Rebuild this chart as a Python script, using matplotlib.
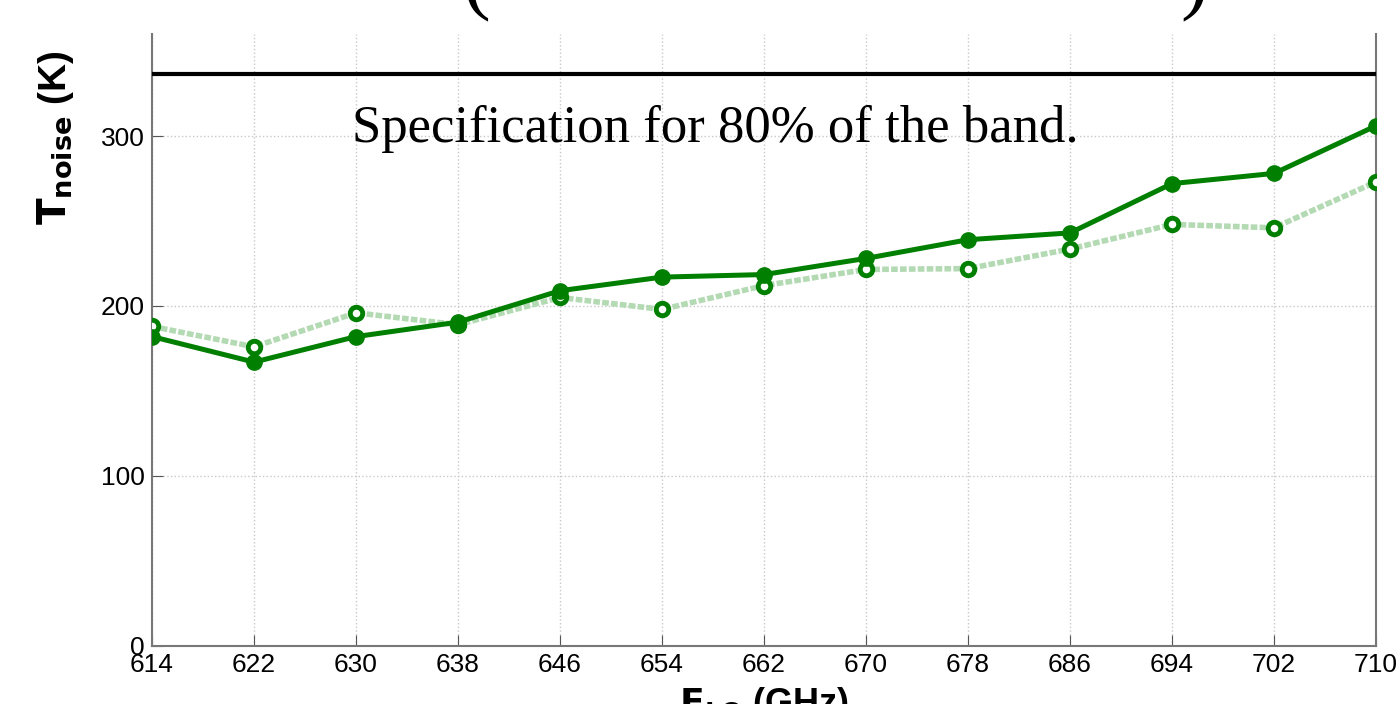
import numpy as np
import matplotlib.pyplot as plt

# LO frequency (GHz) and noise temperature (K)
f_lo = [614, 622, 630, 638, 646, 654, 662, 670, 678, 686, 694, 702, 710]
t_noise_a = [182, 167, 182, 190.5, 209, 217, 218.5, 228, 239, 243, 272, 278, 306]
t_noise_b = [188, 176, 196, 189, 205, 198, 212, 221.5, 222, 233.5, 248, 246, 273]
SPEC_LEVEL = 336.5
SPEC_TEXT = 'Specification for 80% of the band.'

GREEN = '#007f00'
LIGHT_GREEN = '#b3dab3'

fig = plt.figure(figsize=(14, 7.04), dpi=100)
ax = fig.add_axes([0.1086, 0.0824, 0.8743, 0.8693])

ax.plot(f_lo, t_noise_b, color=LIGHT_GREEN, lw=4, ls=(0, (1.2, 0.4)), zorder=2)
ax.plot(f_lo, t_noise_b, ls='none', marker='o', ms=9, mew=3.5,
        mec=GREEN, mfc='white', zorder=3)
ax.plot(f_lo, t_noise_a, color=GREEN, lw=3.6, marker='o', ms=11,
        mec=GREEN, mfc=GREEN, zorder=4)
ax.axhline(SPEC_LEVEL, color='black', lw=3, zorder=5)

ax.text(658.2, 304, SPEC_TEXT, family='Liberation Serif', fontsize=38,
        ha='center', va='center')

ax.set_xlim(614, 710)
ax.set_ylim(0, 360)
ax.set_xticks(f_lo)
ax.set_yticks([0, 100, 200, 300])
ax.grid(True, color='#c8c8c8', ls=':', lw=1)
ax.tick_params(direction='in', length=8, color='#555555', labelsize=19,
               pad=5)
for lbl in ax.get_xticklabels() + ax.get_yticklabels():
    lbl.set_family(['Liberation Sans Narrow', 'Liberation Sans'])

for side in ['left', 'right', 'bottom']:
    ax.spines[side].set_color('#777777')
    ax.spines[side].set_linewidth(1.5)
ax.spines['top'].set_visible(False)

ax.set_ylabel(r'$\mathbf{T_{noise}}$ (K)', fontsize=28, fontweight='bold',
              family='Liberation Sans')
ax.yaxis.set_label_coords(-0.062, 0.83)
ax.set_xlabel(r'$\mathbf{F_{LO}}$ (GHz)', fontsize=26, fontweight='bold',
              family='Liberation Sans', labelpad=6)

# title cut off at the top of the picture
fig.text(0.34, 1.022, '(', family='Liberation Serif', fontsize=60,
         ha='center', va='center')
fig.text(0.853, 1.022, ')', family='Liberation Serif', fontsize=60,
         ha='center', va='center')

fig.savefig('out.png', dpi=100)
